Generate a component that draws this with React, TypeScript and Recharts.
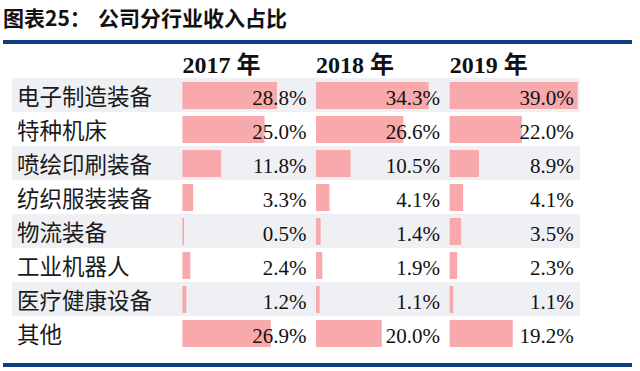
import React from 'react';
import { BarChart, Bar, XAxis, YAxis, ReferenceArea, LabelList } from 'recharts';

const categories = ['电子制造装备', '特种机床', '喷绘印刷装备', '纺织服装装备', '物流装备', '工业机器人', '医疗健康设备', '其他'];
const v2017 = [28.8, 25.0, 11.8, 3.3, 0.5, 2.4, 1.2, 26.9];
const v2018 = [34.3, 26.6, 10.5, 4.1, 1.4, 1.9, 1.1, 20.0];
const v2019 = [39.0, 22.0, 8.9, 4.1, 3.5, 2.3, 1.1, 19.2];
const years = ['2017', '2018', '2019'];

// layout constants (in percentage units on the shared x scale)
const DOMAIN_MAX = 173;
const COL_START = 51.9;
const COL_WIDTH = 39.3;
const COL_PITCH = 40.7;
const colStarts = [0, 1, 2].map((i) => COL_START + i * COL_PITCH);

const data = categories.map((c, i) => ({
  name: c,
  pad: COL_START,
  v2017: v2017[i],
  r2017: COL_WIDTH - v2017[i],
  g1: COL_PITCH - COL_WIDTH,
  v2018: v2018[i],
  r2018: COL_WIDTH - v2018[i],
  g2: COL_PITCH - COL_WIDTH,
  v2019: v2019[i],
  r2019: COL_WIDTH - v2019[i],
}));

const PINK = '#f8a9ac';
const BAND = '#eff0f4';
const NAVY = '#0f3f7d';
const SERIF = "'Liberation Serif', 'Times New Roman', 'Noto Sans CJK SC', serif";
const CJK = "'Noto Sans CJK SC', sans-serif";

const fmt = (v: any) => `${Number(v).toFixed(1)}%`;

const CatTick = (props: any) => {
  const { x, y, payload } = props;
  return (
    <text x={x} y={y} dy={10} textAnchor="start" fontFamily={CJK} fontSize={22.5} fill="#1a1a1a">
      {payload.value}
    </text>
  );
};

const YearTick = (props: any) => {
  const { x, y, index } = props;
  return (
    <text x={x} y={y} textAnchor="start" fontFamily={SERIF} fontWeight="bold" fontSize={24} fill="#111">
      {`${years[index]} 年`}
    </text>
  );
};

const labelStyle = { fontFamily: SERIF, fontSize: 21, fill: '#111' };

export default function App() {
  return (
    <div style={{ position: 'absolute', left: 0, top: 0, width: 640, height: 371, background: '#fff', overflow: 'hidden' }}>
      <div style={{ position: 'absolute', left: 3, top: 7, fontFamily: CJK, fontWeight: 700, fontSize: 21, lineHeight: '21px', color: '#111', whiteSpace: 'nowrap' }}>
        图表25：
      </div>
      <div style={{ position: 'absolute', left: 98, top: 7, fontFamily: CJK, fontWeight: 700, fontSize: 21, lineHeight: '21px', color: '#111', whiteSpace: 'nowrap' }}>
        公司分行业收入占比
      </div>
      <div style={{ position: 'absolute', left: 3, top: 40, width: 629, height: 4, background: NAVY }} />
      <div style={{ position: 'absolute', left: 3, top: 363, width: 629, height: 4, background: NAVY }} />
      <div style={{ position: 'absolute', left: 0, top: 0 }}>
        <BarChart
          width={640}
          height={371}
          data={data}
          layout="vertical"
          margin={{ top: 48, right: 60, bottom: 21, left: 12 }}
          barSize={27}
        >
          <XAxis
            xAxisId={0}
            type="number"
            orientation="top"
            domain={[0, DOMAIN_MAX]}
            ticks={colStarts}
            height={30}
            axisLine={false}
            tickLine={false}
            tickSize={0}
            tickMargin={5}
            tick={<YearTick />}
            interval={0}
            allowDataOverflow
          />
          <YAxis
            type="category"
            dataKey="name"
            width={1}
            mirror
            axisLine={false}
            tickLine={false}
            tickSize={0}
            tickMargin={5}
            tick={<CatTick />}
            interval={0}
          />
          {categories.map((c, i) =>
            i % 2 === 0 ? (
              <ReferenceArea key={c} y1={c} y2={c} fill={BAND} fillOpacity={1} stroke="none" ifOverflow="extendDomain" />
            ) : null
          )}
          <Bar dataKey="pad" stackId="s" fill="transparent" isAnimationActive={false} />
          <Bar dataKey="v2017" stackId="s" fill={PINK} isAnimationActive={false} />
          <Bar dataKey="r2017" stackId="s" fill="transparent" isAnimationActive={false}>
            <LabelList dataKey="v2017" position="insideRight" offset={5} formatter={fmt} style={labelStyle} dy={2.5} />
          </Bar>
          <Bar dataKey="g1" stackId="s" fill="transparent" isAnimationActive={false} />
          <Bar dataKey="v2018" stackId="s" fill={PINK} isAnimationActive={false} />
          <Bar dataKey="r2018" stackId="s" fill="transparent" isAnimationActive={false}>
            <LabelList dataKey="v2018" position="insideRight" offset={5} formatter={fmt} style={labelStyle} dy={2.5} />
          </Bar>
          <Bar dataKey="g2" stackId="s" fill="transparent" isAnimationActive={false} />
          <Bar dataKey="v2019" stackId="s" fill={PINK} isAnimationActive={false} />
          <Bar dataKey="r2019" stackId="s" fill="transparent" isAnimationActive={false}>
            <LabelList dataKey="v2019" position="insideRight" offset={5} formatter={fmt} style={labelStyle} dy={2.5} />
          </Bar>
        </BarChart>
      </div>
    </div>
  );
}
